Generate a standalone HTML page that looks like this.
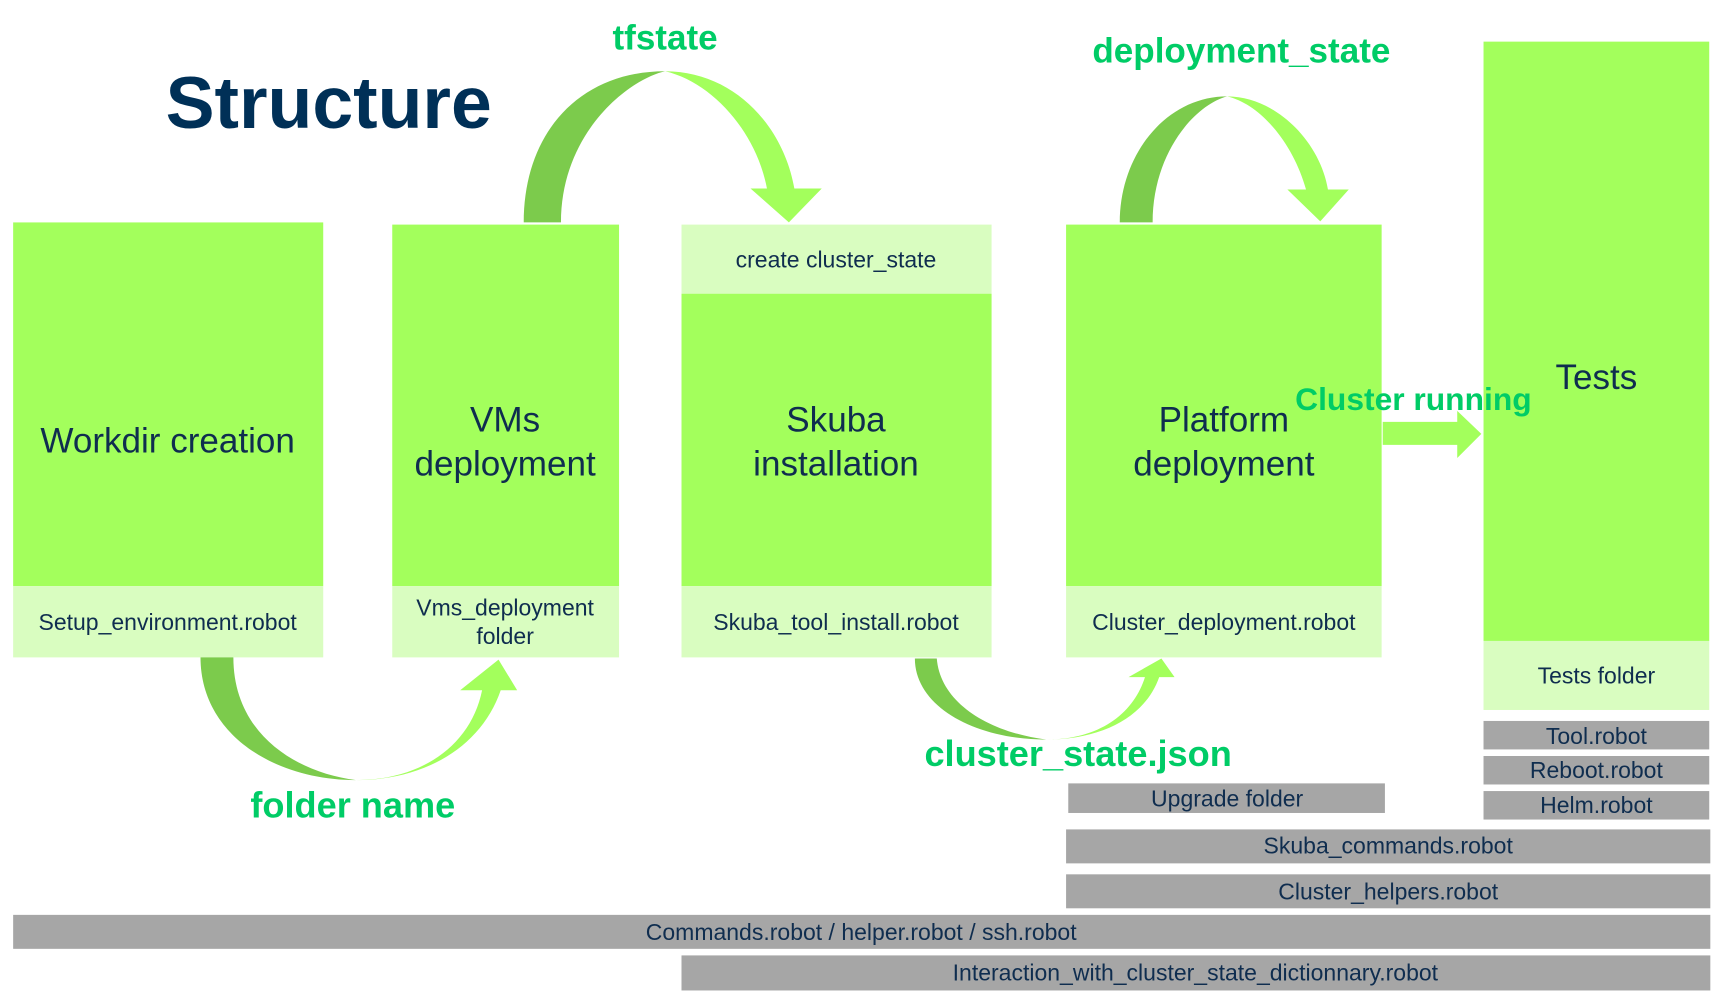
<!DOCTYPE html>
<html><head><meta charset="utf-8"><style>
html,body{margin:0;padding:0;background:#fff;}
svg{display:block;}
text{font-family:"Liberation Sans",Arial,sans-serif;}
</style></head><body>
<svg width="1718" height="992" viewBox="0 0 1568 905.4" preserveAspectRatio="none" xmlns="http://www.w3.org/2000/svg">
<rect width="1568" height="906" fill="#fff"/>
<g fill="#a3ff5c">
<rect x="12" y="203" width="283" height="332"/>
<rect x="358" y="205" width="207" height="330"/>
<rect x="622" y="268" width="283" height="267"/>
<rect x="973" y="205" width="288" height="330"/>
<rect x="1354" y="38" width="206" height="547"/>
</g>
<g fill="#d9fdc0">
<rect x="12" y="535" width="283" height="65"/>
<rect x="358" y="535" width="207" height="65"/>
<rect x="622" y="205" width="283" height="63"/>
<rect x="622" y="535" width="283" height="65"/>
<rect x="973" y="535" width="288" height="65"/>
<rect x="1354" y="585" width="206" height="63"/>
</g>
<g fill="#a6a6a6">
<rect x="1354" y="658" width="206" height="26"/>
<rect x="1354" y="690" width="206" height="26"/>
<rect x="1354" y="722" width="206" height="26"/>
<rect x="975" y="715" width="289" height="27"/>
<rect x="973" y="757" width="588" height="31"/>
<rect x="973" y="798" width="588" height="31"/>
<rect x="12" y="835" width="1549" height="31"/>
<rect x="622" y="872" width="939" height="32"/>
</g>
<path d="M478,203 C478,120 530,65 607,65 C575,72 512,120 512,203 Z" fill="#7ccb4c"/>
<path d="M607,65 C670,65 715,115 725,172 L750,172 L720,203 L685,172 L700,172 C690,120 650,75 607,65 Z" fill="#a3ff5c"/>
<path d="M1022,203 C1022,140 1065,88 1120,88 C1090,96 1052,140 1052,203 Z" fill="#7ccb4c"/>
<path d="M1120,88 C1165,88 1205,130 1212,173 L1231,173 L1205,202 L1175,173 L1192,173 C1180,130 1150,95 1120,88 Z" fill="#a3ff5c"/>
<path d="M183,600 C183,670 250,712 325,712 C270,705 213,670 213,600 Z" fill="#7ccb4c"/>
<path d="M325,712 C385,712 430,680 440,630 L420,630 L455,602 L472,630 L457,630 C440,680 390,712 325,712 Z" fill="#a3ff5c"/>
<path d="M835,601 C835,645 890,675 955,675 C900,668 858,640 855,601 Z" fill="#7ccb4c"/>
<path d="M955,675 C1005,675 1035,650 1045,618 L1030,618 L1060,601 L1072,618 L1058,618 C1045,655 1005,675 955,675 Z" fill="#a3ff5c"/>
<path d="M1262,385 L1330,385 L1330,375 L1352,396 L1330,418 L1330,406 L1262,406 Z" fill="#a3ff5c"/>
<text x="300" y="117" font-size="67" font-weight="bold" fill="#003057" text-anchor="middle">Structure</text>
<g font-weight="bold" fill="#00cc66" text-anchor="middle" font-size="32">
<text x="607" y="45">tfstate</text>
<text x="1133" y="57">deployment_state</text>
<text x="1290" y="374" font-size="29">Cluster running</text>
<text x="984" y="699" font-size="33">cluster_state.json</text>
<text x="322" y="746" font-size="33">folder name</text>
</g>
<g fill="#0f2d4f" text-anchor="middle" font-size="32">
<text x="153" y="413">Workdir creation</text>
<text x="461" y="394">VMs</text>
<text x="461" y="434">deployment</text>
<text x="763" y="394">Skuba</text>
<text x="763" y="434">installation</text>
<text x="1117" y="394">Platform</text>
<text x="1117" y="434">deployment</text>
<text x="1457" y="355">Tests</text>
</g>
<g fill="#0f2d4f" text-anchor="middle" font-size="21">
<text x="153" y="575">Setup_environment.robot</text>
<text x="461" y="562">Vms_deployment</text>
<text x="461" y="588">folder</text>
<text x="763" y="244">create cluster_state</text>
<text x="763" y="575">Skuba_tool_install.robot</text>
<text x="1117" y="575">Cluster_deployment.robot</text>
<text x="1457" y="624">Tests folder</text>
<text x="1457" y="679">Tool.robot</text>
<text x="1457" y="710">Reboot.robot</text>
<text x="1457" y="742">Helm.robot</text>
<text x="1120" y="736">Upgrade folder</text>
<text x="1267" y="779">Skuba_commands.robot</text>
<text x="1267" y="821">Cluster_helpers.robot</text>
<text x="786" y="858">Commands.robot / helper.robot / ssh.robot</text>
<text x="1091" y="895">Interaction_with_cluster_state_dictionnary.robot</text>
</g>
</svg>
</body></html>
